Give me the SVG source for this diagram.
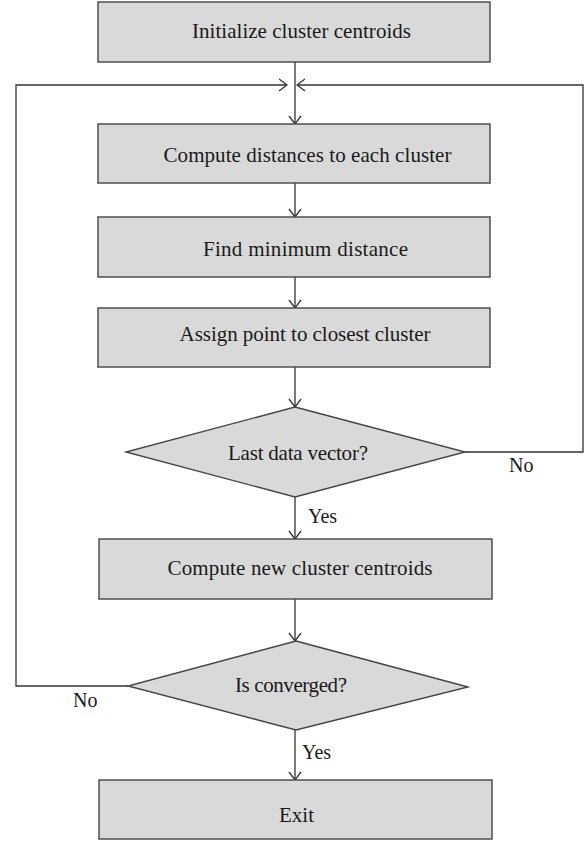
<svg xmlns="http://www.w3.org/2000/svg" width="585" height="841" viewBox="0 0 585 841">
<style>
.box{fill:#d9d9d9;stroke:#444;stroke-width:1.4}
.lbl{font-family:"Liberation Serif","Times New Roman",serif;font-size:21px;fill:#1a1a1a;text-anchor:middle}
.sm{font-family:"Liberation Serif","Times New Roman",serif;font-size:20px;fill:#1a1a1a}
.ln{fill:none;stroke:#333;stroke-width:1.3}
</style>
<defs>
<marker id="arr" markerUnits="userSpaceOnUse" markerWidth="10" markerHeight="14" viewBox="0 0 10 14" refX="9" refY="7" orient="auto">
<path d="M1,1 L9,7 L1,13" fill="none" stroke="#333" stroke-width="1.3"/>
</marker>
</defs>
<g id="connectors">
<path class="ln" d="M295,62 V124" marker-end="url(#arr)"/>
<path class="ln" d="M128,686 H16 V85 H287" marker-end="url(#arr)"/>
<path class="ln" d="M465,452 H583 V85 H297" marker-end="url(#arr)"/>
<path class="ln" d="M295,183 V217" marker-end="url(#arr)"/>
<path class="ln" d="M295,277 V308" marker-end="url(#arr)"/>
<path class="ln" d="M295,367 V407" marker-end="url(#arr)"/>
<path class="ln" d="M295,497 V539" marker-end="url(#arr)"/>
<path class="ln" d="M295,599 V641" marker-end="url(#arr)"/>
<path class="ln" d="M295,730 V780" marker-end="url(#arr)"/>
<text class="sm" x="509" y="472">No</text>
<text class="sm" x="308" y="523">Yes</text>
<text class="sm" x="73" y="707">No</text>
<text class="sm" x="302" y="759">Yes</text>
</g>
<g id="init">
<rect class="box" x="98" y="2" width="392" height="60"/>
<text class="lbl" x="301.5" y="38" textLength="219" lengthAdjust="spacing">Initialize cluster centroids</text>
</g>
<g id="distances">
<rect class="box" x="98" y="124" width="392" height="59"/>
<text class="lbl" x="307.5" y="162" textLength="288" lengthAdjust="spacing">Compute distances to each cluster</text>
</g>
<g id="minimum">
<rect class="box" x="98" y="217" width="392" height="60"/>
<text class="lbl" x="305.5" y="256" textLength="205" lengthAdjust="spacing">Find minimum distance</text>
</g>
<g id="assign">
<rect class="box" x="98" y="308" width="392" height="59"/>
<text class="lbl" x="305" y="341" textLength="251" lengthAdjust="spacing">Assign point to closest cluster</text>
</g>
<g id="lastvector">
<polygon class="box" points="295,407 465,452 295,497 126,452"/>
<text class="lbl" x="298" y="460" textLength="140" lengthAdjust="spacing">Last data vector?</text>
</g>
<g id="newcentroids">
<rect class="box" x="99" y="539" width="393" height="60"/>
<text class="lbl" x="300" y="575" textLength="265" lengthAdjust="spacing">Compute new cluster centroids</text>
</g>
<g id="converged">
<polygon class="box" points="296,641 468,687 296,730 128,686"/>
<text class="lbl" x="291" y="692" textLength="112" lengthAdjust="spacing">Is converged?</text>
</g>
<g id="exit">
<rect class="box" x="99" y="780" width="393" height="59"/>
<text class="lbl" x="296.5" y="822">Exit</text>
</g>
</svg>
